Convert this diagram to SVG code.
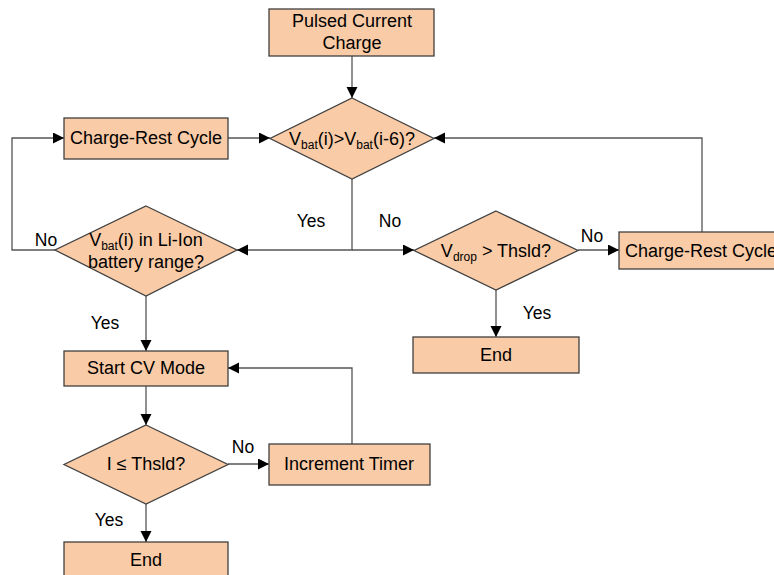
<svg xmlns="http://www.w3.org/2000/svg" width="774" height="575" viewBox="0 0 774 575">
<style>
.box{fill:#F9CBA6;stroke:#404040;stroke-width:1.3}
.t{font-family:"Liberation Sans",Arial,sans-serif;font-size:18px;fill:#000;text-anchor:middle}
.lbl{font-family:"Liberation Sans",Arial,sans-serif;font-size:17.5px;fill:#000;text-anchor:middle}
.sub{font-size:12px}
.c{fill:none;stroke:#555;stroke-width:1.3}
</style>
<defs>
<marker id="ah" markerUnits="userSpaceOnUse" markerWidth="12" markerHeight="12" refX="11" refY="5.5" orient="auto">
<path d="M0,0 L11,5.5 L0,11 z" fill="#000"/>
</marker>
</defs>
<rect width="774" height="575" fill="#fff"/>
<g id="connectors">
<path class="c" d="M352,56 V98" marker-end="url(#ah)"/>
<path class="c" d="M228,138 H270" marker-end="url(#ah)"/>
<path class="c" d="M352,179 V250 H237" marker-end="url(#ah)"/>
<path class="c" d="M352,250 H414" marker-end="url(#ah)"/>
<path class="c" d="M55,250 H12 V138 H64" marker-end="url(#ah)"/>
<path class="c" d="M146,296 V351" marker-end="url(#ah)"/>
<path class="c" d="M578,250 H619" marker-end="url(#ah)"/>
<path class="c" d="M702,232 V138 H434" marker-end="url(#ah)"/>
<path class="c" d="M496,290 V337" marker-end="url(#ah)"/>
<path class="c" d="M146,386 V425" marker-end="url(#ah)"/>
<path class="c" d="M228,464 H269" marker-end="url(#ah)"/>
<path class="c" d="M352,444 V368 H228" marker-end="url(#ah)"/>
<path class="c" d="M146,504 V542" marker-end="url(#ah)"/>
<text class="lbl" x="311" y="227">Yes</text>
<text class="lbl" x="390" y="227">No</text>
<text class="lbl" x="46" y="246">No</text>
<text class="lbl" x="592" y="242">No</text>
<text class="lbl" x="537" y="319">Yes</text>
<text class="lbl" x="105" y="329">Yes</text>
<text class="lbl" x="243" y="453">No</text>
<text class="lbl" x="109" y="526">Yes</text>
</g>
<g id="pulsed">
<rect class="box" x="269" y="9" width="165" height="47"/>
<text class="t" x="352" y="27">Pulsed Current</text>
<text class="t" x="352" y="49">Charge</text>
</g>
<g id="crc-left">
<rect class="box" x="64" y="118" width="164" height="41"/>
<text class="t" x="146" y="144">Charge-Rest Cycle</text>
</g>
<g id="d1">
<polygon class="box" points="352,98 434,138.5 352,179 270,138.5"/>
<text class="t" x="352" y="145">V<tspan class="sub" dy="4">bat</tspan><tspan dy="-4">(i)&gt;V</tspan><tspan class="sub" dy="4">bat</tspan><tspan dy="-4">(i-6)?</tspan></text>
</g>
<g id="d2">
<polygon class="box" points="146,206 237,250 146,296 55,250"/>
<text class="t" x="146" y="246">V<tspan class="sub" dy="4">bat</tspan><tspan dy="-4">(i) in Li-Ion</tspan></text>
<text class="t" x="146" y="268">battery range?</text>
</g>
<g id="d3">
<polygon class="box" points="496,211 578,250.5 496,290 414,250.5"/>
<text class="t" x="496" y="257">V<tspan class="sub" dy="4">drop</tspan><tspan dy="-4"> &gt; Thsld?</tspan></text>
</g>
<g id="crc-right">
<rect class="box" x="619" y="232" width="164" height="37"/>
<text class="t" x="701" y="257">Charge-Rest Cycle</text>
</g>
<g id="end-right">
<rect class="box" x="413" y="337" width="166" height="36"/>
<text class="t" x="496" y="361">End</text>
</g>
<g id="startcv">
<rect class="box" x="64" y="351" width="164" height="35"/>
<text class="t" x="146" y="374">Start CV Mode</text>
</g>
<g id="d4">
<polygon class="box" points="146,425 228,464.5 146,504 64,464.5"/>
<text class="t" x="146" y="470">I ≤ Thsld?</text>
</g>
<g id="increment">
<rect class="box" x="269" y="444" width="161" height="41"/>
<text class="t" x="349" y="470">Increment Timer</text>
</g>
<g id="end-left">
<rect class="box" x="64" y="542" width="164" height="36"/>
<text class="t" x="146" y="566">End</text>
</g>
</svg>
